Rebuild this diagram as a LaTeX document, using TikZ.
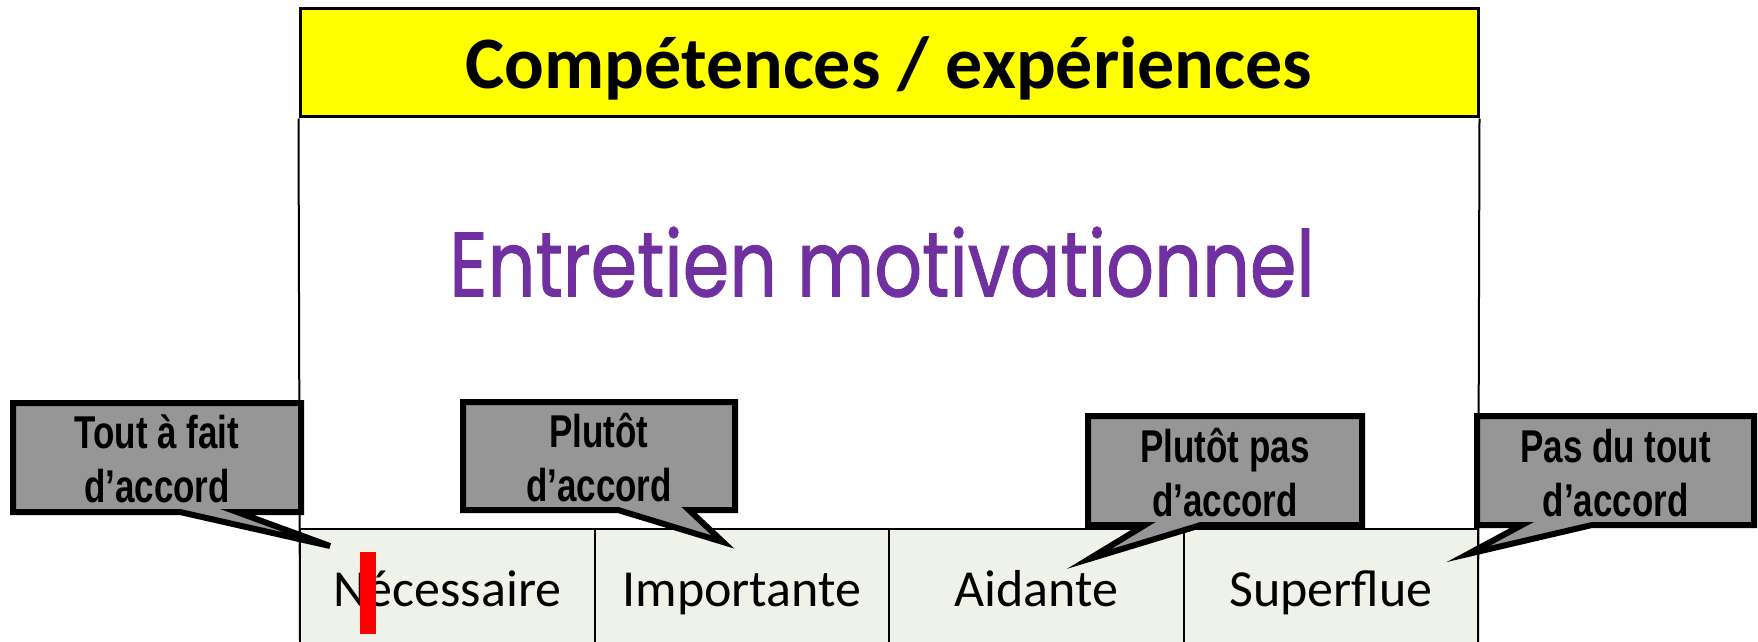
\documentclass[tikz,border=0pt]{standalone}
\usepackage{fontspec}
\setmainfont{Carlito}
\newfontfamily\bubblefont[FakeStretch=0.76]{Liberation Sans}
\newfontfamily\handfont[FakeBold=1.2]{Poppins}
\usetikzlibrary{positioning}

\definecolor{titleyellow}{RGB}{255,255,0}
\definecolor{bubblegray}{RGB}{150,150,150}
\definecolor{cellfill}{RGB}{239,242,233}
\definecolor{emviolet}{RGB}{112,48,160}

\tikzset{
  cell/.style={draw,fill=cellfill,line width=1pt,minimum width=147.25pt,minimum height=60.5pt,inner sep=0pt,text height=21pt,text depth=4pt,font=\fontsize{26}{30}\selectfont},
  bubble/.style={align=center,inner sep=0pt,font=\bubblefont\bfseries\fontsize{23}{27}\selectfont},
  bubbleline/.style={draw=black,fill=bubblegray,line width=3pt,line join=miter},
}

\begin{document}
\begin{tikzpicture}[x=0.5pt,y=-0.5pt]
\useasboundingbox (0,0) rectangle (1758,642);
%%
\node (band) at (889,63) [draw,fill=titleyellow,line width=1.5pt,minimum width=589pt,minimum height=54pt,inner sep=0pt,text depth=0pt,font=\bfseries\fontsize{37}{44}\selectfont] {Compétences / expériences};
  \coordinate (frame_sw) at (300,642);
  \coordinate (frame_se) at (1478,642);
  \draw [line width=1pt] (band.south west) -- (frame_sw);
  \draw [line width=1pt] (band.south east) -- (frame_se);
  \node (motto) at (882,262) [text=emviolet,font=\handfont\fontsize{36}{44}\selectfont] {\scalebox{1.04}[1.27]{Entretien motivationnel}};
  \node (cell_1) at (447.25,589.5) [cell] {Nécessaire};
  \node (cell_2) at (741.75,589.5) [cell] {Importante};
  \node (cell_3) at (1036.25,589.5) [cell] {Aidante};
  \node (cell_4) at (1330.75,589.5) [cell] {Superflue};
  \fill [red] (360,552) rectangle (376,634);
%%
  \draw [bubbleline] (13,403) -- (301,403) -- (301,512) -- (237,512) -- (330,546) -- (180,512) -- (13,512) -- cycle
    (157,459) node (bubble_1) [bubble] {Tout à fait\\d’accord};
  \draw [bubbleline] (463,402) -- (735,402) -- (735,510) -- (689,510) -- (723,542) -- (618,510) -- (463,510) -- cycle
    (599,458) node (bubble_2) [bubble] {Plutôt\\d’accord};
  \draw [bubbleline] (1088,416) -- (1362,416) -- (1362,525) -- (1201,525) -- (1089,559) -- (1145,525) -- (1088,525) -- cycle
    (1225,473) node (bubble_3) [bubble] {Plutôt pas\\d’accord};
  \draw [bubbleline] (1477,416) -- (1754,416) -- (1754,525) -- (1592,525) -- (1468,554) -- (1522,525) -- (1477,525) -- cycle
    (1615.5,473) node (bubble_4) [bubble] {Pas du tout\\d’accord};
%
\end{tikzpicture}
\end{document}
